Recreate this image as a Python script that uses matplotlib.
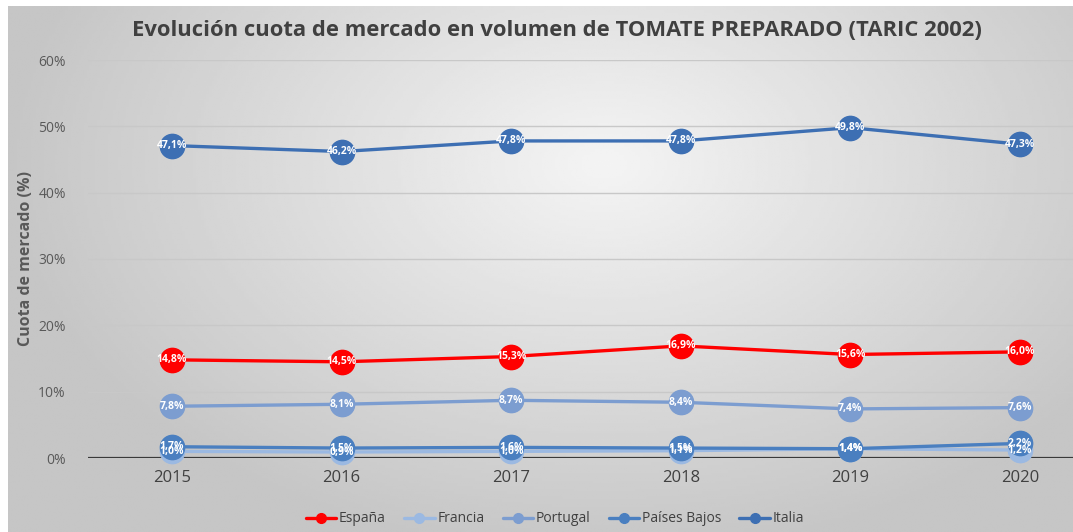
import matplotlib.pyplot as plt
import numpy as np

# Datos (cuota de mercado en %)
years = ['2015', '2016', '2017', '2018', '2019', '2020']
espana = [14.8, 14.5, 15.3, 16.9, 15.6, 16.0]
francia = [1.0, 0.9, 1.0, 1.1, 1.4, 1.2]
portugal = [7.8, 8.1, 8.7, 8.4, 7.4, 7.6]
paises_bajos = [1.7, 1.5, 1.6, 1.5, 1.4, 2.2]
italia = [47.1, 46.2, 47.8, 47.8, 49.8, 47.3]

series = [
    ('España', espana, '#ff0000'),
    ('Francia', francia, '#9bb9e2'),
    ('Portugal', portugal, '#7c9dd0'),
    ('Países Bajos', paises_bajos, '#4a7fc0'),
    ('Italia', italia, '#3d6fb3'),
]

plt.rcParams['font.family'] = ['Open Sans', 'DejaVu Sans']

W, H = 1073, 532
fig = plt.figure(figsize=(W / 100, H / 100), dpi=100)
fig.patch.set_facecolor('white')

# fondo con degradado radial (gris claro en el centro, más oscuro en los bordes)
bg = fig.add_axes([8 / W, 0, 1 - 8 / W, 1 - 6 / H], zorder=-10)
gx, gy = np.meshgrid(np.linspace(0, 1, 400), np.linspace(0, 1, 200))
d = np.sqrt(((gx - 0.56) / 0.75) ** 2 + ((gy - 0.3) / 1.0) ** 2)
shade = np.clip(244 - 62 * d, 198, 244) / 255
bg.imshow(shade, cmap='gray', vmin=0, vmax=1, aspect='auto', extent=[0, 1, 1, 0])
bg.axis('off')

ax = fig.add_axes([88 / W, (H - 458) / H, 1 - 88 / W, (458 - 60) / H])
ax.patch.set_alpha(0)
x = np.arange(len(years))

for name, vals, col in series:
    ax.plot(x, vals, color=col, lw=2.4, marker='o', ms=17.5, mec=col, mfc=col,
            label=name, clip_on=False, solid_capstyle='round')
    for xi, v in zip(x, vals):
        ax.text(xi, v, f'{v:.1f}%'.replace('.', ','), color='white', fontsize=7.5,
                fontweight='bold', ha='center', va='center', clip_on=False)

ax.set_xlim(-84 / 169.6, 5 + 53 / 169.6)
ax.set_ylim(0, 60)
ax.set_yticks(np.arange(0, 61, 10))
ax.set_yticklabels([f'{t}%' for t in range(0, 61, 10)], color='#595959', fontsize=10)
ax.set_xticks(x)
ax.set_xticklabels(years, color='#404040', fontsize=12)
ax.tick_params(length=0)
ax.tick_params(axis='y', pad=16)
ax.tick_params(axis='x', pad=9)
ax.grid(axis='y', color='#c8c8c8', lw=1)
ax.set_axisbelow(True)
for s in ax.spines.values():
    s.set_visible(False)
ax.axhline(0, color='#3a3a3a', lw=1.6, zorder=1)

ax.set_ylabel('Cuota de mercado (%)', color='#595959', fontsize=11.5,
              fontweight='bold', labelpad=4)
ax.yaxis.set_label_coords(-54 / (W - 88), 0.5)

fig.text(557 / W, 1 - 30 / H,
         'Evolución cuota de mercado en volumen de TOMATE PREPARADO (TARIC 2002)',
         ha='center', va='center', fontsize=15.8, fontweight='bold', color='#404040')

fig.legend(loc='center', bbox_to_anchor=(555 / W, 1 - 519 / H), ncol=5, frameon=False,
           fontsize=10, markerscale=0.4, handlelength=2.2, handletextpad=0.2,
           columnspacing=1.3, labelcolor='#404040')

fig.savefig('out.png', dpi=100)
